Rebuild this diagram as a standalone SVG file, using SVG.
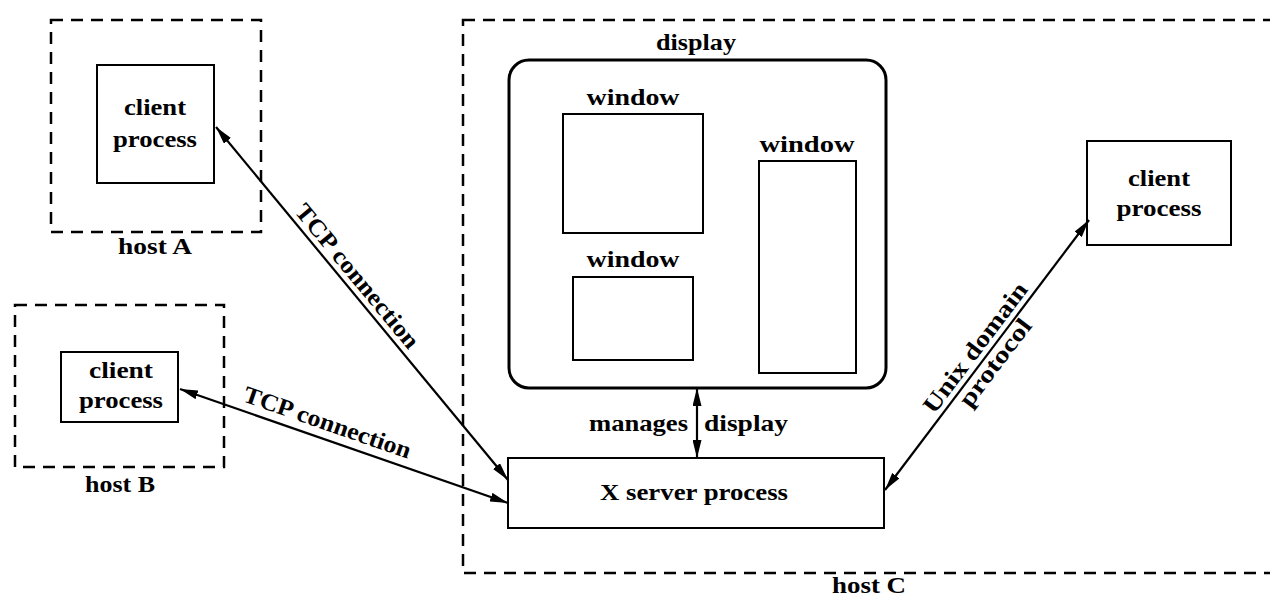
<svg xmlns="http://www.w3.org/2000/svg" width="1270" height="596" viewBox="0 0 1270 596">
<defs>
<style>
.dash{fill:none;stroke:#000;stroke-width:2.5;stroke-dasharray:12 8}
.box{fill:#fff;stroke:#000;stroke-width:2}
.disp{fill:#fff;stroke:#000;stroke-width:3}
.conn{fill:none;stroke:#000;stroke-width:2.2}
text{font-family:"Liberation Serif","Times New Roman",serif;font-weight:bold;font-size:24px;fill:#000;text-anchor:middle}
</style>
<marker id="ah" viewBox="0 0 18 9" refX="18" refY="4.5" markerWidth="18" markerHeight="9" markerUnits="userSpaceOnUse" orient="auto-start-reverse">
<path d="M0,0 L18,4.5 L0,9 z" fill="#000"/>
</marker>
</defs>
<rect width="1270" height="596" fill="#fff"/>

<g id="hostA">
<rect class="dash" x="51" y="20" width="210" height="212"/>
<text x="155" y="254" textLength="74" lengthAdjust="spacingAndGlyphs">host A</text>
</g>
<g id="clientA">
<rect class="box" x="97" y="65" width="117" height="118"/>
<text x="155" y="115" textLength="62" lengthAdjust="spacingAndGlyphs">client</text>
<text x="155" y="147" textLength="84" lengthAdjust="spacingAndGlyphs">process</text>
</g>

<g id="hostB">
<rect class="dash" x="15" y="305" width="209" height="162"/>
<text x="120" y="492" textLength="70" lengthAdjust="spacingAndGlyphs">host B</text>
</g>
<g id="clientB">
<rect class="box" x="61" y="352" width="117" height="70"/>
<text x="121" y="378" textLength="64" lengthAdjust="spacingAndGlyphs">client</text>
<text x="121" y="408" textLength="84" lengthAdjust="spacingAndGlyphs">process</text>
</g>

<g id="hostC">
<rect class="dash" x="463" y="20" width="820" height="553"/>
<text x="869" y="593" textLength="74" lengthAdjust="spacingAndGlyphs">host C</text>
</g>

<g id="display">
<rect class="disp" x="509" y="60" width="377" height="328" rx="20" ry="20"/>
<text x="696" y="50" textLength="80" lengthAdjust="spacingAndGlyphs">display</text>
</g>
<g id="window1">
<rect class="box" x="563" y="114" width="140" height="119"/>
<text x="633" y="105" textLength="93" lengthAdjust="spacingAndGlyphs">window</text>
</g>
<g id="window2">
<rect class="box" x="573" y="277" width="120" height="83"/>
<text x="633" y="267" textLength="93" lengthAdjust="spacingAndGlyphs">window</text>
</g>
<g id="window3">
<rect class="box" x="759" y="161" width="97" height="212"/>
<text x="807" y="152" textLength="95" lengthAdjust="spacingAndGlyphs">window</text>
</g>

<g id="xserver">
<rect class="box" x="508" y="458" width="376" height="70"/>
<text x="694" y="500" textLength="188" lengthAdjust="spacingAndGlyphs">X server process</text>
</g>

<g id="clientC">
<rect class="box" x="1087" y="141" width="144" height="104"/>
<text x="1159" y="186" textLength="62" lengthAdjust="spacingAndGlyphs">client</text>
<text x="1159" y="216" textLength="85" lengthAdjust="spacingAndGlyphs">process</text>
</g>

<g id="connectors">
<line class="conn" x1="216" y1="127" x2="508" y2="480" marker-start="url(#ah)" marker-end="url(#ah)"/>
<line class="conn" x1="180" y1="389" x2="508" y2="503" marker-start="url(#ah)" marker-end="url(#ah)"/>
<line class="conn" x1="1089" y1="220" x2="885" y2="490" marker-start="url(#ah)" marker-end="url(#ah)"/>
<line class="conn" x1="697" y1="388" x2="697" y2="458" marker-start="url(#ah)" marker-end="url(#ah)"/>
<text transform="translate(346.6,284.9) rotate(50.4)" x="0" y="-6" textLength="180" lengthAdjust="spacingAndGlyphs">TCP connection</text>
<text transform="translate(321.8,438.4) rotate(19.2)" x="0" y="-9" textLength="176" lengthAdjust="spacingAndGlyphs">TCP connection</text>
<text transform="translate(986.3,355.9) rotate(-52.9)" x="0" y="-6" textLength="157" lengthAdjust="spacingAndGlyphs">Unix domain</text>
<text transform="translate(986.3,355.9) rotate(-52.9)" x="0" y="19" textLength="104" lengthAdjust="spacingAndGlyphs">protocol</text>
<text x="688" y="431" style="text-anchor:end" textLength="99" lengthAdjust="spacingAndGlyphs">manages</text>
<text x="704" y="431" style="text-anchor:start" textLength="84" lengthAdjust="spacingAndGlyphs">display</text>
</g>
</svg>
